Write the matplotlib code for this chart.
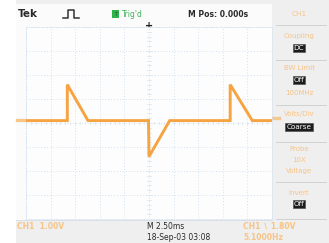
import matplotlib.pyplot as plt
from matplotlib.patches import Rectangle
from matplotlib.ticker import MultipleLocator

# Trace (time in ms, CH1 in V)
t_ms = [-12.5, -8.3, -8.3, -6.2, -0.05, 0.0, 2.1, 8.25, 8.25, 10.5, 12.5]
ch1_v = [0.1, 0.1, 1.6, 0.1, 0.1, -1.4, 0.1, 0.1, 1.6, 0.1, 0.1]

ms_per_div = 2.5
volts_per_div = 1.0

menu_labels = ['CH1', 'Coupling', 'BW Limit', '100MHz', 'Volts/Div', 'Probe', '10X', 'Voltage', 'Invert']
menu_values = ['DC', 'Off', 'Coarse', 'Off']

W, H = 329, 243
orange = '#f6a341'
faded = '#f7c485'
gridc = '#d3e2f0'

def fx(px):
    return px / W

def fy(py):
    return 1 - py / H

fig = plt.figure(figsize=(W / 100, H / 100), dpi=100, facecolor='white')

# instrument background
bg = fig.add_axes([0, 0, 1, 1])
bg.set_xlim(0, W); bg.set_ylim(H, 0); bg.axis('off')
bg.add_patch(Rectangle((16, 0), W - 16, H, color='#efefef', lw=0))
bg.add_patch(Rectangle((16, 4), 256, 216, color='#fbfbfb', lw=0))
for yy in [25, 60, 105, 142, 182, 219]:
    bg.plot([276, 326], [yy, yy], color='#cccccc', lw=0.6)
bg.plot([16, 272], [220, 220], color='#d5dde5', lw=0.6)

# screen
ax = fig.add_axes([fx(26), fy(219), 246 / W, 192 / H])
ax.set_facecolor('#fdfdfd')
ax.set_xlim(-5 * ms_per_div, 5 * ms_per_div)
ax.set_ylim(-4 * volts_per_div, 4 * volts_per_div)
ax.xaxis.set_major_locator(MultipleLocator(ms_per_div))
ax.yaxis.set_major_locator(MultipleLocator(volts_per_div))
ax.grid(True, color=gridc, linestyle=(0, (1, 2)), linewidth=0.7)
ax.tick_params(length=0, labelbottom=False, labelleft=False)
for s in ax.spines.values():
    s.set_color(gridc); s.set_linewidth(0.6); s.set_linestyle((0, (1, 2)))
# minor marks on centre lines
for k in range(-25, 26):
    x = k * ms_per_div / 5
    ax.plot([x, x], [-0.06, 0.06], color=gridc, lw=0.5)
for k in range(-20, 21):
    y = k * volts_per_div / 5
    ax.plot([-0.18, 0.18], [y, y], color=gridc, lw=0.5)
ax.plot(t_ms, ch1_v, color=orange, lw=2.1, solid_joinstyle='miter', zorder=5)

# ground / level markers and trigger point
bg.plot([17, 26], [120, 120], color=orange, lw=2.4, alpha=0.6)
bg.plot([272, 279], [118, 118], color=orange, lw=2.4, alpha=0.5)
bg.text(149, 26, '+', ha='center', va='center', fontsize=7, fontweight='bold', color='#222222')

# top bar
bg.text(18, 14, 'Tek', fontsize=7.5, fontweight='bold', color='#2a2a2a', va='center')
bg.plot([63, 68, 68, 74, 74, 79], [18, 18, 10, 10, 18, 18], color='#333333', lw=1.1)
bg.add_patch(Rectangle((112, 10), 7, 8, color='#2fb24a', lw=0))
bg.text(115.5, 14.2, 'T', fontsize=4, color='#1a5a25', ha='center', va='center')
bg.text(122, 14.2, "Trig'd", fontsize=5.5, color='#3fb058', va='center')
bg.text(188, 14.2, 'M Pos: 0.000s', fontsize=5.5, fontweight='bold', color='#2a2a2a', va='center')
bg.text(299, 14, 'CH1', fontsize=5.2, color=faded, ha='center', va='center')

# side menu
lab_y = [14, 36, 68, 93, 114, 149, 160, 171, 193]
for lab, yy in zip(menu_labels[1:], lab_y[1:]):
    bg.text(299, yy, lab, fontsize=5, color=faded, ha='center', va='center')
for val, yy in zip(menu_values, [48, 80, 127, 204]):
    bg.text(299, yy, val, fontsize=5.2, color='white', ha='center', va='center',
            bbox=dict(boxstyle='square,pad=0.15', fc='#1c1c1c', ec='#555555', lw=0.5))

# bottom readouts
bg.text(17, 226, 'CH1  1.00V', fontsize=5.5, fontweight='bold', color=faded, va='center')
bg.text(147, 226, 'M 2.50ms', fontsize=5.5, color='#2a2a2a', va='center')
bg.text(147, 237, '18-Sep-03 03:08', fontsize=5.5, color='#2a2a2a', va='center')
bg.text(243, 226, 'CH1 \u2216 1.80V', fontsize=5.5, fontweight='bold', color=faded, va='center')
bg.text(243, 237, '5.1000Hz', fontsize=5.5, fontweight='bold', color=faded, va='center')

plt.savefig('out.png', dpi=100)
